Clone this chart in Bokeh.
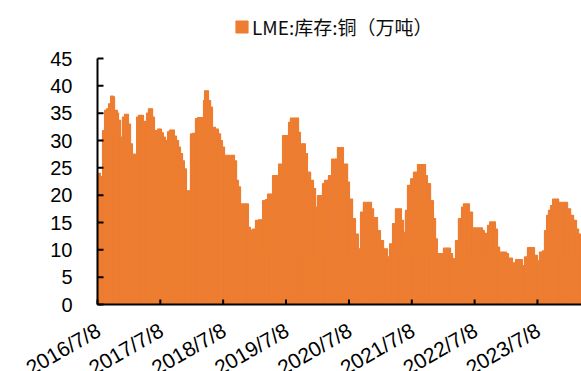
import math
import pandas as pd
from bokeh.plotting import figure
from bokeh.models import ColumnDataSource, Legend, LegendItem, Range1d, LabelSet
from bokeh.core.properties import value
from bokeh.embed import file_html
from bokeh.resources import INLINE

# LME copper stocks (10k tonnes), dated readings
DATES = [
    "2016-07-08", "2016-07-25", "2016-08-06", "2016-08-18", "2016-08-29", "2016-09-10",
    "2016-09-22", "2016-10-09", "2016-10-15", "2016-11-01", "2016-11-07", "2016-11-19",
    "2016-11-30", "2016-12-12", "2016-12-23", "2017-01-04", "2017-01-16", "2017-01-27",
    "2017-02-14", "2017-02-20", "2017-03-03", "2017-03-21", "2017-04-01", "2017-04-13",
    "2017-04-19", "2017-04-30", "2017-05-12", "2017-05-24", "2017-06-04", "2017-06-22",
    "2017-07-03", "2017-07-15", "2017-07-26", "2017-08-07", "2017-08-19", "2017-08-30",
    "2017-09-17", "2017-09-28", "2017-10-10", "2017-10-22", "2017-11-02", "2017-11-14",
    "2017-11-25", "2017-12-07", "2017-12-19", "2017-12-30", "2018-01-11", "2018-01-28",
    "2018-02-09", "2018-03-04", "2018-03-16", "2018-03-22", "2018-04-02", "2018-04-14",
    "2018-04-26", "2018-05-07", "2018-05-25", "2018-06-11", "2018-06-23", "2018-07-04",
    "2018-07-16", "2018-08-08", "2018-08-31", "2018-09-12", "2018-09-24", "2018-10-05",
    "2018-10-17", "2018-11-09", "2018-11-21", "2018-12-02", "2018-12-14", "2018-12-26",
    "2019-01-12", "2019-01-29", "2019-02-10", "2019-02-22", "2019-03-11", "2019-03-23",
    "2019-04-09", "2019-04-21", "2019-05-14", "2019-05-26", "2019-06-18", "2019-07-11",
    "2019-07-23", "2019-08-03", "2019-08-27", "2019-09-13", "2019-09-19", "2019-09-30",
    "2019-10-18", "2019-10-29", "2019-11-10", "2019-11-28", "2019-12-15", "2019-12-27",
    "2020-01-07", "2020-01-25", "2020-02-05", "2020-02-17", "2020-02-28", "2020-03-11",
    "2020-03-29", "2020-04-21", "2020-05-02", "2020-05-26", "2020-06-06", "2020-06-30",
    "2020-07-11", "2020-07-29", "2020-08-15", "2020-09-01", "2020-09-13", "2020-09-30",
    "2020-10-30", "2020-11-16", "2020-11-28", "2020-12-21", "2021-01-07", "2021-01-25",
    "2021-02-17", "2021-03-01", "2021-03-18", "2021-04-04", "2021-04-22", "2021-05-09",
    "2021-05-21", "2021-06-01", "2021-06-13", "2021-07-01", "2021-07-18", "2021-08-10",
    "2021-09-08", "2021-09-26", "2021-10-07", "2021-10-25", "2021-11-11", "2021-11-23",
    "2021-12-04", "2021-12-28", "2022-01-08", "2022-02-01", "2022-02-18", "2022-03-02",
    "2022-03-19", "2022-04-05", "2022-04-23", "2022-05-04", "2022-05-28", "2022-06-08",
    "2022-06-26", "2022-07-13", "2022-07-31", "2022-08-23", "2022-09-03", "2022-09-21",
    "2022-10-03", "2022-10-26", "2022-11-06", "2022-11-18", "2022-11-30", "2022-12-23",
    "2023-01-09", "2023-01-21", "2023-02-13", "2023-03-03", "2023-04-01", "2023-04-12",
    "2023-04-24", "2023-05-11", "2023-06-09", "2023-06-21", "2023-07-08", "2023-07-20",
    "2023-08-06", "2023-08-18", "2023-08-30", "2023-09-10", "2023-09-22", "2023-10-04",
    "2023-11-02", "2023-11-08", "2023-12-18", "2023-12-30", "2024-01-17", "2024-02-03",
    "2024-02-20", "2024-03-03", "2024-03-20",
]

STOCKS = [
    24.0, 23.4, 31.8, 35.5, 35.8, 36.7,
    38.1, 38.0, 35.5, 35.0, 33.7, 30.6,
    34.3, 34.8, 34.8, 33.0, 29.4, 27.5,
    26.3, 34.3, 34.6, 34.6, 33.5, 31.8,
    35.0, 35.8, 35.8, 34.3, 31.8, 32.1,
    32.1, 31.4, 30.6, 30.0, 31.6, 31.9,
    31.9, 30.8, 30.0, 28.8, 27.6, 26.3,
    24.8, 20.8, 20.8, 31.2, 31.3, 34.0,
    34.2, 34.2, 37.3, 39.1, 39.1, 37.3,
    36.1, 32.4, 32.1, 31.2, 30.0, 28.8,
    27.3, 27.3, 27.3, 26.3, 22.7, 21.5,
    18.4, 18.4, 18.4, 14.1, 13.6, 13.8,
    15.4, 15.5, 15.5, 19.0, 19.2, 20.2,
    20.2, 23.6, 23.6, 25.7, 30.9, 30.9,
    33.3, 34.1, 34.1, 34.1, 31.5, 29.4,
    29.4, 27.6, 24.2, 22.7, 21.2, 17.8,
    19.9, 19.9, 22.1, 22.7, 22.7, 23.6,
    26.6, 26.6, 28.7, 28.7, 25.7, 22.4,
    19.3, 15.7, 12.9, 10.2, 16.9, 18.7,
    18.7, 17.5, 15.9, 13.5, 11.7, 10.2,
    8.7, 11.1, 14.8, 17.5, 17.5, 15.4,
    13.2, 17.2, 21.8, 23.0, 24.2, 25.6,
    25.6, 23.6, 22.1, 19.0, 15.7, 12.0,
    9.3, 9.3, 10.3, 10.3, 9.3, 8.4,
    11.7, 15.7, 17.8, 18.4, 18.4, 16.9,
    14.0, 14.0, 14.0, 13.5, 13.0, 14.5,
    15.1, 15.1, 13.8, 10.5, 9.6, 9.6,
    9.3, 8.5, 7.6, 8.2, 8.2, 7.1,
    8.7, 10.4, 10.4, 9.0, 8.0, 9.6,
    9.8, 13.5, 16.3, 17.2, 18.1, 19.3,
    19.3, 18.7, 18.7, 17.5, 16.3, 15.4,
    13.8, 12.9, 12.9,
]

TICK_LABELS = ["2016/7/8", "2017/7/8", "2018/7/8", "2019/7/8",
               "2020/7/8", "2021/7/8", "2022/7/8", "2023/7/8"]
Y_TICKS = [0, 5, 10, 15, 20, 25, 30, 35, 40, 45]
Y_MAX = 45
SERIES_NAME = "LME:库存:铜（万吨）"

ORANGE = "#ED7D31"
INK = "#000000"
LABEL_FONT = value("Liberation Sans")

# canvas layout (px). The plotting frame fills the whole canvas so that the
# slanted dates, the value labels and the legend all draw without clipping;
# the value axis runs from AX_TOP (=45) to AX_BOTTOM (=0) at x = AX_LEFT.
W, H = 581, 371
AX_LEFT, AX_TOP, AX_BOTTOM = 97, 58, 304

dates = pd.to_datetime(DATES)
t0, t1 = dates[0], dates[-1]
per_px = (t1 - t0) / (W - AX_LEFT)
px_per_unit = (AX_BOTTOM - AX_TOP) / Y_MAX

lefts = list(dates)
rights = list(dates[1:]) + [t1 + pd.Timedelta(days=7)]
src = ColumnDataSource(dict(left=lefts, right=rights, top=STOCKS,
                            bottom=[0] * len(STOCKS)))

p = figure(width=W, height=H, x_axis_location=None, y_axis_location=None,
           output_backend="svg", toolbar_location=None,
           min_border_left=0, min_border_right=0,
           min_border_top=0, min_border_bottom=0)
p.x_range = Range1d(t0 - per_px * AX_LEFT, t1)
p.y_range = Range1d(-(H - AX_BOTTOM) / px_per_unit, Y_MAX + AX_TOP / px_per_unit)

# dense bars, outlined in the fill colour so neighbours merge into one silhouette
r = p.quad(left="left", right="right", top="top", bottom="bottom", source=src,
           fill_color=ORANGE, line_color=ORANGE, line_width=1.2)

p.outline_line_color = None
p.xgrid.visible = False
p.ygrid.visible = False
p.background_fill_color = "white"
p.border_fill_color = "white"

# value axis: line, inward ticks, labels
p.segment(x0=[t0], y0=[0], x1=[t0], y1=[Y_MAX], line_color=INK, line_width=2)
p.ray(x=[t0] * len(Y_TICKS), y=Y_TICKS, length=6, length_units="screen",
      angle=0, line_color=INK, line_width=2)
p.add_layout(LabelSet(
    source=ColumnDataSource(dict(x=[t0] * len(Y_TICKS), y=Y_TICKS,
                                 text=[str(v) for v in Y_TICKS])),
    x="x", y="y", text="text", x_offset=-25,
    text_align="right", text_baseline="middle",
    text_font=LABEL_FONT, text_font_size="20px", text_color=INK))

# date axis: baseline from the value axis to the right edge, inward ticks, slanted labels
tick_dates = pd.to_datetime(TICK_LABELS, format="%Y/%m/%d")
p.segment(x0=[t0], y0=[0], x1=[t1 + pd.Timedelta(days=30)], y1=[0],
          line_color=INK, line_width=2)
p.ray(x=list(tick_dates), y=[0] * len(TICK_LABELS), length=5, length_units="screen",
      angle=math.pi / 2, line_color=INK, line_width=2)
p.add_layout(LabelSet(
    source=ColumnDataSource(dict(x=list(tick_dates), y=[0] * len(TICK_LABELS),
                                 text=TICK_LABELS)),
    x="x", y="y", text="text", y_offset=-24, x_offset=1,
    angle=math.radians(30), text_align="right", text_baseline="middle",
    text_font=LABEL_FONT, text_font_size="21px", text_color=INK))

legend = Legend(items=[LegendItem(label=SERIES_NAME, renderers=[r])],
                location=(234, 331), orientation="horizontal")
legend.padding = 0
legend.margin = 0
legend.spacing = 0
legend.glyph_width = 15
legend.glyph_height = 15
legend.label_standoff = 3
legend.label_height = 15
legend.label_text_font = "Noto Sans CJK SC"
legend.label_text_font_size = "19px"
legend.label_text_color = "#0d0d0d"
legend.border_line_alpha = 0
legend.background_fill_alpha = 0
p.add_layout(legend)

open("out.html", "w").write(file_html(p, INLINE))
